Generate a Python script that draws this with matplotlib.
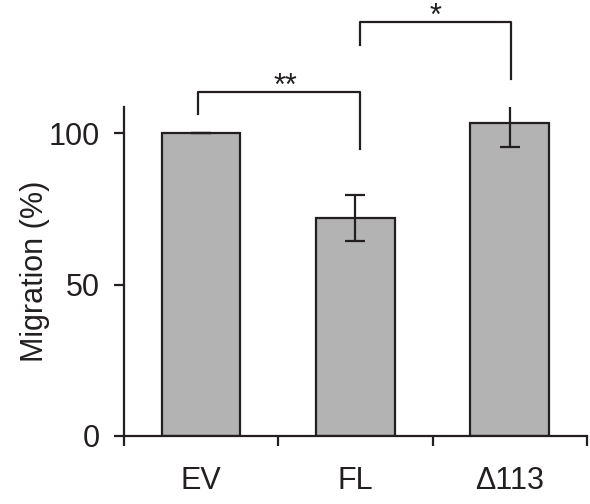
import matplotlib.pyplot as plt

plt.rcParams["font.family"] = ["Liberation Sans", "DejaVu Sans"]

# Date
groups = ["EV", "FL", "Δ113"]
migration = [100, 72, 103.6]
errors = [0, 7.7, 8.2]

# (group a, group b, bracket height, leg bottom a, leg bottom b, label)
brackets = [
    (0, 1, 113.6, 106.4, 95, "**"),
    (1, 2, 136.8, 129.4, 118, "*"),
]

dark = "#231f20"
bar_color = "#b3b3b3"

fig = plt.figure(figsize=(5.9, 5.04), dpi=100)
ax = fig.add_axes([0.210, 0.1355, 0.785, 0.6525])

x = list(range(len(groups)))
ax.bar(x, migration, width=0.51, color=bar_color, edgecolor=dark, linewidth=1.6,
       yerr=errors, capsize=7, error_kw=dict(ecolor=dark, elinewidth=1.6, capthick=1.6),
       zorder=2)

# paranteze semnificatie
for a, b, h, la, lb, lab in brackets:
    xa = a - 0.02 if a == 0 else a + 0.03
    xb = b + 0.03 if b == 1 else b + 0.01
    ax.plot([xa, xa, xb, xb], [la, h, h, lb], color=dark, lw=1.6, clip_on=False)
    ax.text((xa + xb) / 2 + (0.04 if a == 0 else 0), h - 0.8, lab, ha="center",
            va="baseline", fontsize=22, color=dark, clip_on=False)

ax.set_xlim(-0.5, 2.5)
ax.set_ylim(0, 108.8)
ax.set_yticks([0, 50, 100])
ax.set_xticks(x)
ax.set_xticklabels(groups)
ax.set_xticks([-0.5, 0.5, 1.5, 2.5], minor=True)

ax.tick_params(axis="x", which="major", length=0, pad=22, labelsize=22, labelcolor=dark)
ax.tick_params(axis="x", which="minor", length=7.2, width=1.6, direction="out", color=dark)
ax.tick_params(axis="y", length=7.2, width=1.6, direction="out", pad=10,
               labelsize=22, labelcolor=dark, color=dark)

for side in ["top", "right"]:
    ax.spines[side].set_visible(False)
for side in ["left", "bottom"]:
    ax.spines[side].set_color(dark)
    ax.spines[side].set_linewidth(1.6)

ax.set_ylabel("Migration (%)", fontsize=22, color=dark, labelpad=-1)

fig.savefig("out.png", dpi=100)
